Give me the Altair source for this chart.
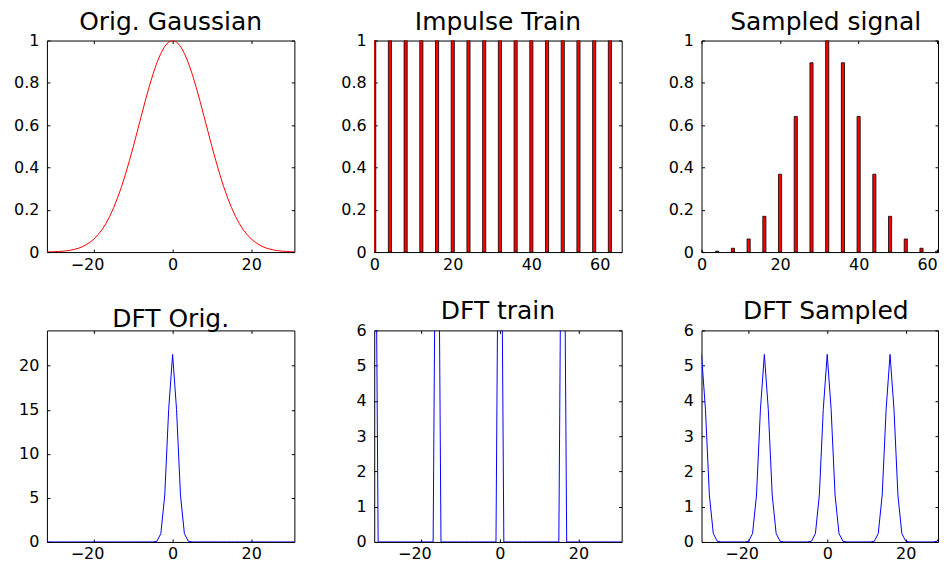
import altair as alt
import pandas as pd

FONT = "DejaVu Sans"

# ---------------- data ----------------
gauss_x = list(range(-32, 32))
gauss_y = [0.001, 0.001, 0.002, 0.003, 0.004, 0.006, 0.009, 0.013,
           0.018, 0.025, 0.035, 0.047, 0.062, 0.082, 0.105, 0.134,
           0.169, 0.210, 0.257, 0.309, 0.368, 0.432, 0.499, 0.570,
           0.641, 0.712, 0.779, 0.841, 0.895, 0.939, 0.973, 0.993,
           1.000, 0.993, 0.973, 0.939, 0.895, 0.841, 0.779, 0.712,
           0.641, 0.570, 0.499, 0.432, 0.368, 0.309, 0.257, 0.210,
           0.169, 0.134, 0.105, 0.082, 0.062, 0.047, 0.035, 0.025,
           0.018, 0.013, 0.009, 0.006, 0.004, 0.003, 0.002, 0.001]

train_x = [0, 4, 8, 12, 16, 20, 24, 28, 32, 36, 40, 44, 48, 52, 56, 60]
train_y = [1, 1, 1, 1, 1, 1, 1, 1, 1, 1, 1, 1, 1, 1, 1, 1]
sampled_y = [0.001, 0.004, 0.018, 0.062, 0.169, 0.368, 0.641, 0.895,
             1.000, 0.895, 0.641, 0.368, 0.169, 0.062, 0.018, 0.004]

dft_k = list(range(-32, 32))
dft_orig = [0, 0, 0, 0, 0, 0, 0, 0,
            0, 0, 0, 0, 0, 0, 0, 0,
            0, 0, 0, 0, 0, 0, 0, 0,
            0, 0, 0, 0, 0.08, 0.94, 5.31, 15.04,
            21.27, 15.04, 5.31, 0.94, 0.08, 0, 0, 0,
            0, 0, 0, 0, 0, 0, 0, 0,
            0, 0, 0, 0, 0, 0, 0, 0,
            0, 0, 0, 0, 0, 0, 0, 0]
dft_train = [16, 0, 0, 0, 0, 0, 0, 0,
             0, 0, 0, 0, 0, 0, 0, 0,
             16, 0, 0, 0, 0, 0, 0, 0,
             0, 0, 0, 0, 0, 0, 0, 0,
             16, 0, 0, 0, 0, 0, 0, 0,
             0, 0, 0, 0, 0, 0, 0, 0,
             16, 0, 0, 0, 0, 0, 0, 0,
             0, 0, 0, 0, 0, 0, 0, 0]
dft_sampled = [5.32, 3.76, 1.33, 0.24, 0.02, 0, 0, 0,
               0, 0, 0, 0, 0.02, 0.24, 1.33, 3.76,
               5.32, 3.76, 1.33, 0.24, 0.02, 0, 0, 0,
               0, 0, 0, 0, 0.02, 0.24, 1.33, 3.76,
               5.32, 3.76, 1.33, 0.24, 0.02, 0, 0, 0,
               0, 0, 0, 0, 0.02, 0.24, 1.33, 3.76,
               5.32, 3.76, 1.33, 0.24, 0.02, 0, 0, 0,
               0, 0, 0, 0, 0.02, 0.24, 1.33, 3.76]

titles = ["Orig. Gaussian", "Impulse Train", "Sampled signal",
          "DFT Orig.", "DFT train", "DFT Sampled"]
sym_ticks = [-20, 0, 20]
pos_ticks = [0, 20, 40, 60]
unit_ticks = [0, 0.2, 0.4, 0.6, 0.8, 1]

W, H = 248, 212
W3 = 237          # right column is cut off by the window edge, as in the reference
TICK = 3
LFS = 16
TITLE_FS = 25
TITLE_OFFSET = -22

common = dict(ticks=True, tickSize=TICK, offset=-TICK, domain=False, grid=False,
              title=None, tickColor="black", tickWidth=1, minExtent=0, labelFlush=False)


def x_axes(values):
    bottom = alt.Axis(orient="bottom", values=values, labelPadding=4,
                      labelFont=FONT, labelFontSize=LFS, labelColor="black",
                      labelOffset={"condition": {"test": "datum.value < 0", "value": -7}, "value": 0},
                      labelAlign={"condition": {"test": "datum.value >= 60", "value": "right"}, "value": "center"},
                      **common)
    top = alt.Axis(orient="top", values=values, labels=False, **common)
    return bottom, top


def y_axes(values, fmt):
    left = alt.Axis(orient="left", values=values, labelPadding=8, format=fmt,
                    labelFont=FONT, labelFontSize=LFS, labelColor="black", **common)
    right = alt.Axis(orient="right", values=values, labels=False, **common)
    return left, right


def panel(df, kind, color, xdom, xticks, ydom, yticks, yfmt, title, width=W, dx=0):
    xs = alt.Scale(domain=xdom, nice=False, zero=False)
    ys = alt.Scale(domain=ydom, nice=False, zero=False)
    xb, xt = x_axes(xticks)
    yl, yr = y_axes(yticks, yfmt)
    base = alt.Chart(df)
    if kind == "line":
        main = base.mark_line(color=color, strokeWidth=1, clip=True).encode(
            x=alt.X("x:Q", scale=xs, axis=xb),
            y=alt.Y("y:Q", scale=ys, axis=yl),
        )
    else:
        main = base.transform_calculate(
            x0="datum.x - 0.4", x1="datum.x + 0.4"
        ).mark_rect(color=color, stroke="black", strokeWidth=0.8, clip=True).encode(
            x=alt.X("x0:Q", scale=xs, axis=xb),
            x2="x1:Q",
            y=alt.Y("y:Q", scale=ys, axis=yl),
            y2=alt.datum(0),
        )
    frame_df = pd.DataFrame({"fx": xdom, "fy": ydom})
    frame = alt.Chart(frame_df).mark_point(opacity=0, clip=True).encode(
        x=alt.X("fx:Q", scale=xs, axis=xt),
        y=alt.Y("fy:Q", scale=ys, axis=yr),
    )
    return alt.layer(main, frame).resolve_axis(
        x="independent", y="independent"
    ).properties(
        width=width, height=H,
        title=alt.TitleParams(title, font=FONT, fontSize=TITLE_FS, fontWeight="normal",
                              color="black", baseline="alphabetic",
                              offset=TITLE_OFFSET, anchor="middle", dx=dx),
    )


df_gauss = pd.DataFrame({"x": gauss_x, "y": gauss_y})
df_train = pd.DataFrame({"x": train_x, "y": train_y})
df_sampled = pd.DataFrame({"x": train_x, "y": sampled_y})
df_dorig = pd.DataFrame({"x": dft_k, "y": dft_orig})
df_dtrain = pd.DataFrame({"x": dft_k, "y": dft_train})
df_dsamp = pd.DataFrame({"x": dft_k, "y": dft_sampled})

# visible part of the cut-off right column
r3 = 63 * W3 / W
RED, BLUE = "#ff0000", "#0000ff"
p1 = panel(df_gauss, "line", RED, [-32, 31], sym_ticks, [0, 1], unit_ticks, ".1~f", titles[0])
p2 = panel(df_train, "bar", RED, [0, 63], pos_ticks, [0, 1], unit_ticks, ".1~f", titles[1])
p3 = panel(df_sampled, "bar", RED, [0, r3], pos_ticks, [0, 1], unit_ticks, ".1~f", titles[2],
           width=W3, dx=6)
p4 = panel(df_dorig, "line", BLUE, [-32, 31], sym_ticks, [0, 24], [0, 5, 10, 15, 20], "d", titles[3])
p5 = panel(df_dtrain, "line", BLUE, [-32, 31], sym_ticks, [0, 6], [0, 1, 2, 3, 4, 5, 6], "d", titles[4])
p6 = panel(df_dsamp, "line", BLUE, [-32, -32 + r3], sym_ticks, [0, 6], [0, 1, 2, 3, 4, 5, 6], "d",
           titles[5], width=W3, dx=6)

chart = alt.concat(
    p1, p2, p3, p4, p5, p6,
    columns=3,
    spacing={"row": 78.5, "column": 80},
    bounds="flush",
).properties(
    padding={"left": 5, "top": 0, "right": 0, "bottom": 0},
    background="white",
).configure_view(
    stroke="black", strokeWidth=1
).configure_axis(
    labelFont=FONT, labelFontSize=LFS, labelColor="black",
    tickColor="black", tickWidth=1, minExtent=0, labelFlush=False,
)

chart.save("out.html", embed_options={"renderer": "svg", "actions": False})
